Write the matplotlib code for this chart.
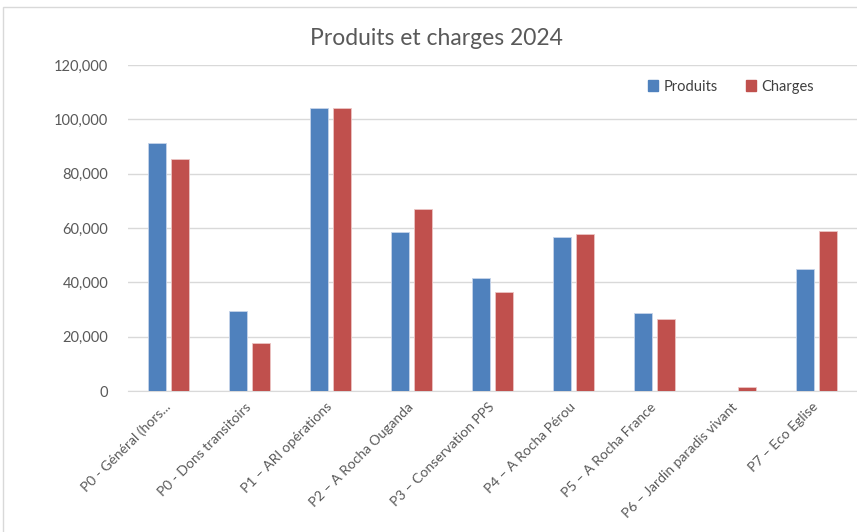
import matplotlib.pyplot as plt
import numpy as np
from matplotlib.ticker import FuncFormatter
from matplotlib.patches import Rectangle, Patch

categories = ['P0 - Général (hors...', 'P0 - Dons transitoirs', 'P1 – ARI opérations',
              'P2 – A Rocha Ouganda', 'P3 – Conservation PPS', 'P4 – A Rocha Pérou',
              'P5 – A Rocha France', 'P6 – Jardin paradis vivant', 'P7 – Eco Eglise']
produits = [91200, 29600, 104000, 58500, 41500, 56600, 28600, 0, 45000]
charges = [85400, 17700, 104300, 66900, 36400, 57800, 26600, 1600, 58900]
yticks = [0, 20000, 40000, 60000, 80000, 100000, 120000]

blue = '#4f81bd'
red = '#c0504d'

plt.rcParams['font.family'] = ['Lato', 'DejaVu Sans']

fig = plt.figure(figsize=(8.57, 5.32), dpi=100)
ax = fig.add_axes([0.149, 0.265, 0.851, 0.613])

# light frame around the chart
fig.patches.append(Rectangle((0.004, -0.05), 1.1, 1.037, transform=fig.transFigure,
                             fill=False, edgecolor='#d9d9d9', linewidth=1.0))

x = np.arange(len(categories))
w = 0.222
ax.bar(x - 0.142, produits, w, color=blue, edgecolor='#c6d4ea', linewidth=0.6, zorder=3)
ax.bar(x + 0.142, charges, w, color=red, edgecolor='#ecc4c3', linewidth=0.6, zorder=3)

ax.set_xlim(-0.5, len(categories) - 0.5)
ax.set_ylim(0, 120000)
ax.set_yticks(yticks)
ax.yaxis.set_major_formatter(FuncFormatter(lambda v, p: f'{int(v):,}'))
ax.grid(axis='y', color='#d9d9d9', linewidth=1.0, zorder=0)

for s in ['top', 'right', 'left']:
    ax.spines[s].set_visible(False)
ax.spines['bottom'].set_color('#d9d9d9')
ax.tick_params(axis='both', length=0, colors='#595959', labelsize=10.5)
ax.tick_params(axis='y', pad=14)

ax.set_xticks(x)
ax.set_xticklabels(categories, rotation=45, ha='right', va='center', rotation_mode='anchor')
for lbl in ax.get_xticklabels():
    lbl.set_fontsize(10)
ax.tick_params(axis='x', pad=10)

fig.text(0.509, 0.928, 'Produits et charges 2024', ha='center', va='center',
         fontsize=16.5, color='#595959')

handles = [Patch(color=blue, label='Produits'), Patch(color=red, label='Charges')]
ax.legend(handles=handles, loc='upper left', bbox_to_anchor=(0.695, 0.995), ncol=2,
          frameon=False, fontsize=10.5, handlelength=0.7, handleheight=0.7,
          handletextpad=0.4, columnspacing=1.9, labelcolor='#404040')

fig.savefig('out.png', dpi=100)
